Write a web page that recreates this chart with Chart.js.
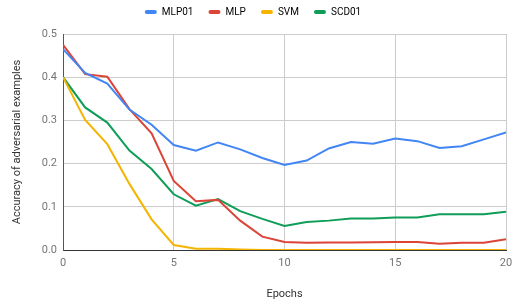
<!DOCTYPE html>
<html>
<head>
<meta charset="utf-8">
<script src="https://cdn.jsdelivr.net/npm/chart.js@4.4.0/dist/chart.umd.min.js"></script>
<style>
  html, body { margin: 0; padding: 0; background: #ffffff; }
  #wrap { width: 521px; height: 301px; position: relative; }
</style>
</head>
<body>
<div id="wrap"><canvas id="accChart"></canvas></div>
<script>
const epochs = [0, 1, 2, 3, 4, 5, 6, 7, 8, 9, 10, 11, 12, 13, 14, 15, 16, 17, 18, 19, 20];
const mlp01 = [0.465, 0.41, 0.385, 0.325, 0.29, 0.243, 0.23, 0.249, 0.233, 0.213, 0.197, 0.207, 0.235, 0.25, 0.246, 0.258, 0.252, 0.236, 0.24, 0.256, 0.272];
const mlp = [0.475, 0.407, 0.401, 0.326, 0.27, 0.16, 0.113, 0.116, 0.068, 0.031, 0.0185, 0.017, 0.0175, 0.0175, 0.018, 0.0185, 0.0185, 0.0146, 0.017, 0.017, 0.025];
const svm = [0.4, 0.301, 0.245, 0.153, 0.071, 0.0116, 0.003, 0.003, 0.001, 0, 0, 0, 0, 0, 0, 0, 0, 0, 0, 0, 0];
const scd01 = [0.4, 0.33, 0.295, 0.23, 0.1875, 0.129, 0.1026, 0.118, 0.09, 0.072, 0.0556, 0.065, 0.068, 0.073, 0.073, 0.075, 0.075, 0.0826, 0.083, 0.083, 0.0887];
const xTicks = [0, 5, 10, 15, 20];
const yTicks = [0, 0.1, 0.2, 0.3, 0.4, 0.5];

function toPoints(values) {
    return epochs.map((e, i) => ({ x: e, y: values[i] }));
}

function makeSet(label, values, color) {
    return {
        label: label,
        data: toPoints(values),
        borderColor: color,
        backgroundColor: color,
        borderWidth: 2,
        pointRadius: 0,
        tension: 0,
        fill: false
    };
}

// leave a bit more room under the legend than chart.js gives by default
const legendGap = {
    id: "legendGap",
    beforeUpdate(chart) {
        const legend = chart.legend;
        if (legend && !legend._gapPatched) {
            const fit = legend.fit;
            legend.fit = function () {
                fit.call(this);
                this.height += 7;
            };
            legend._gapPatched = true;
        }
    }
};

const ctx = document.getElementById("accChart");

new Chart(ctx, {
    type: "line",
    data: {
        datasets: [
            makeSet("MLP01", mlp01, "#4285f4"),
            makeSet("MLP", mlp, "#db4437"),
            makeSet("SVM", svm, "#f4b400"),
            makeSet("SCD01", scd01, "#0f9d58")
        ]
    },
    plugins: [legendGap],
    options: {
        responsive: true,
        maintainAspectRatio: false,
        animation: false,
        layout: {
            padding: { top: -8, right: 15, left: 0, bottom: 0 }
        },
        plugins: {
            legend: {
                position: "top",
                labels: {
                    boxWidth: 12,
                    boxHeight: 4,
                    padding: 15,
                    color: "#555555",
                    font: { family: "Roboto", size: 10 },
                    generateLabels: function (chart) {
                        return chart.data.datasets.map((ds, i) => ({
                            text: ds.label,
                            fillStyle: ds.borderColor,
                            strokeStyle: ds.borderColor,
                            lineWidth: 0,
                            borderRadius: 2,
                            hidden: false,
                            datasetIndex: i
                        }));
                    }
                }
            },
            tooltip: { enabled: false }
        },
        scales: {
            x: {
                type: "linear",
                min: 0,
                max: 20,
                afterFit: function (scale) { scale.height = 51; },
                afterBuildTicks: function (scale) {
                    scale.ticks = xTicks.map(v => ({ value: v }));
                },
                ticks: {
                    color: "#757575",
                    padding: 7,
                    maxRotation: 0,
                    font: { family: "Roboto", size: 11 }
                },
                grid: {
                    color: "#cccccc",
                    drawTicks: false,
                    lineWidth: 1
                },
                border: { color: "#333333", width: 1 },
                title: {
                    display: true,
                    text: "Epochs",
                    color: "#333333",
                    padding: { top: 3, bottom: 0 },
                    font: { family: "Roboto", size: 11 }
                }
            },
            y: {
                min: 0,
                max: 0.5,
                afterFit: function (scale) { scale.width = 63; },
                afterBuildTicks: function (scale) {
                    scale.ticks = yTicks.map(v => ({ value: v }));
                },
                ticks: {
                    color: "#757575",
                    padding: 6,
                    font: { family: "Roboto", size: 11 },
                    callback: function (v) { return v.toFixed(1); }
                },
                grid: {
                    color: "#cccccc",
                    drawTicks: false,
                    lineWidth: 1
                },
                border: { color: "#555555", width: 1 },
                title: {
                    display: true,
                    text: "Accuracy of adversarial examples",
                    color: "#333333",
                    padding: { top: 11, bottom: 0 },
                    font: { family: "Roboto", size: 11 }
                }
            }
        }
    }
});
</script>
</body>
</html>
